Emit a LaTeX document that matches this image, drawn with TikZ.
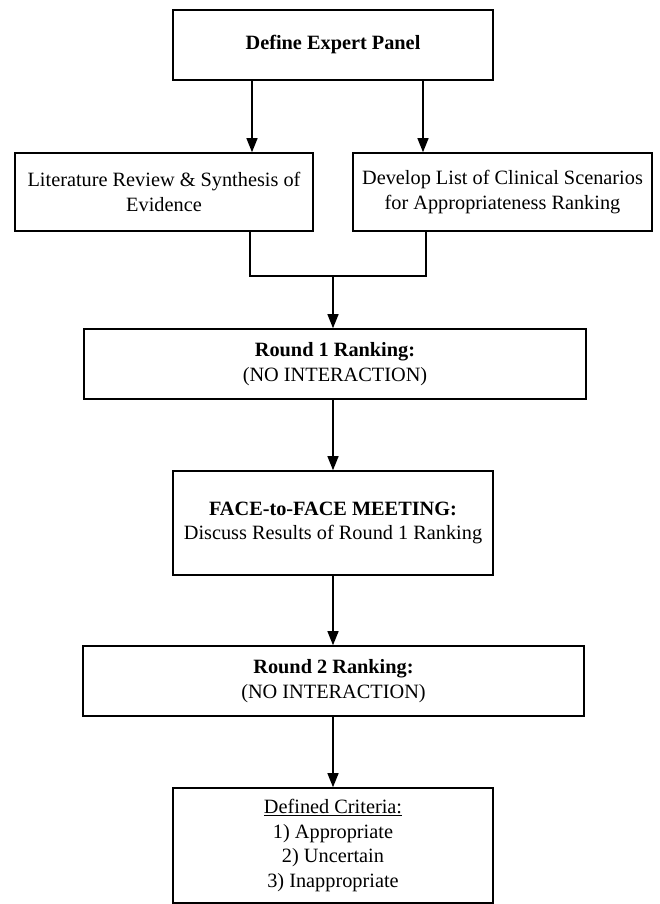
\documentclass[tikz,border=0pt]{standalone}
\usepackage{fontspec}
\setmainfont{Liberation Serif}
\usetikzlibrary{arrows.meta}

\begin{document}
\begin{tikzpicture}[x=1pt,y=-1pt,
  box/.style={draw,line width=1.6pt,align=center,inner sep=0pt,
    font=\fontsize{20.3}{24.5}\selectfont},
  arr/.style={line width=1.3pt,-{Triangle[length=14pt,width=11pt]}}]
\useasboundingbox (0,0) rectangle (660,904);

\node [box,minimum width=320,minimum height=70] (panel) at (333,45) {\textbf{Define Expert Panel}};
\node [box,minimum width=298,minimum height=78] (litrev) at (164,192) {Literature Review \& Synthesis of\\Evidence};
\node [box,minimum width=299,minimum height=78] (scen) at (502.5,192) {Develop List of Clinical Scenarios\\for Appropriateness Ranking};
\node [box,minimum width=502,minimum height=70] (round1) at (335,364) {\textbf{Round 1 Ranking:}\\(NO INTERACTION)};
\node [box,minimum width=320,minimum height=104] (meet) at (333,523) {\textbf{FACE-to-FACE MEETING:}\\Discuss Results of Round 1 Ranking};
\node [box,minimum width=501,minimum height=70] (round2) at (333.5,681) {\textbf{Round 2 Ranking:}\\(NO INTERACTION)};
\node [box,minimum width=320,minimum height=115] (crit) at (333,845.5) {\underline{Defined Criteria:}\\1) Appropriate\\2) Uncertain\\3) Inappropriate};

\coordinate (join) at (333,276);

\draw [arr] ([xshift=-81pt]panel.south) -- ([xshift=-81pt]panel.south |- litrev.north);
\draw [arr] ([xshift=90pt]panel.south) -- ([xshift=90pt]panel.south |- scen.north);
\draw [line width=1.3pt] ([xshift=86pt]litrev.south) |- (join) -| ([xshift=-76.5pt]scen.south);
\draw [arr] (join) -- (join |- round1.north);
\draw [arr] (round1.south -| meet.north) -- (meet.north);
\draw [arr] (meet.south) -- (meet.south |- round2.north);
\draw [arr] (round2.south -| crit.north) -- (crit.north);

\end{tikzpicture}
\end{document}
